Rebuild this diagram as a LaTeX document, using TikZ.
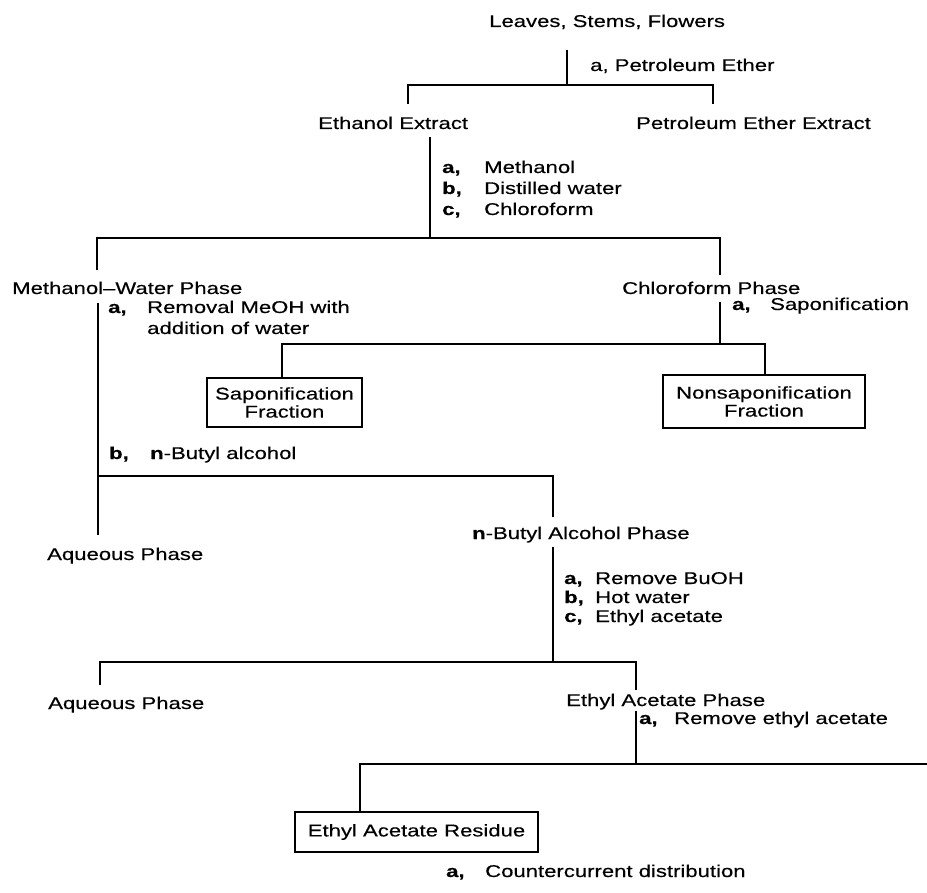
\documentclass[tikz,border=0pt]{standalone}
\usepackage{fontspec}
\setmainfont{Liberation Sans}[FakeStretch=1.3, FakeBold=0.35]
\newcommand\stplab[3]{\makebox[#1][l]{\textbf{#2}}#3}
\begin{document}
\begin{tikzpicture}[x=1pt,y=-1pt,
  every node/.style={font=\fontsize{17}{19}\selectfont, inner sep=0pt, anchor=base west},
  ln/.style={line width=1.6pt, line join=miter},
  fracbox/.style={draw, line width=1.6pt, anchor=center, align=center, inner sep=0pt,
     font=\fontsize{17}{18}\selectfont}]
\useasboundingbox (0,0) rectangle (927,893);

% ---------- text nodes ----------
\node (leaves) at (489,27) {Leaves, Stems, Flowers};
\node (petlab) at (590,71) {a, Petroleum Ether};
\node (ethanol) at (318,129) {Ethanol Extract};
\node (petext) at (636,129) {Petroleum Ether Extract};
\node (la1) at (442,173) {\stplab{42pt}{a,}{Methanol}};
\node (lb1) at (442,194) {\stplab{42pt}{b,}{Distilled water}};
\node (lc1) at (442,215) {\stplab{42pt}{c,}{Chloroform}};
\node (mw) at (12,294) {Methanol--Water Phase};
\node (chl) at (622,294) {Chloroform Phase};
\node (la2) at (108,313) {\stplab{39pt}{a,}{Removal MeOH with}};
\node (la2b) at (147,334) {addition of water};
\node (la3) at (732,310) {\stplab{38pt}{a,}{Saponification}};
\node[fracbox, minimum width=155pt, minimum height=49pt] (sap) at (284.5,402.5) {Saponification\\Fraction};
\node[fracbox, minimum width=202pt, minimum height=53pt] (nonsap) at (764,401.5) {Nonsaponification\\Fraction};
\node (lb2) at (109,459) {\stplab{41pt}{b,}{\textbf{n}-Butyl alcohol}};
\node (aq1) at (47,560) {Aqueous Phase};
\node (bu) at (472,539) {\textbf{n}-Butyl Alcohol Phase};
\node (la4) at (564,584) {\stplab{31pt}{a,}{Remove BuOH}};
\node (lb4) at (564,603) {\stplab{31pt}{b,}{Hot water}};
\node (lc4) at (564,622) {\stplab{31pt}{c,}{Ethyl acetate}};
\node (aq2) at (48,709) {Aqueous Phase};
\node (ea) at (566,706) {Ethyl Acetate Phase};
\node (la5) at (639,724) {\stplab{35pt}{a,}{Remove ethyl acetate}};
\node[fracbox, minimum width=243pt, minimum height=40pt] (ear) at (416.5,832) {Ethyl Acetate Residue};
\node (la6) at (446,877) {\stplab{39pt}{a,}{Countercurrent distribution}};

% ---------- junction coordinates ----------
\coordinate (t0) at (567,50);
\coordinate (j1) at (567,85);
\coordinate (e1) at (408,104);
\coordinate (p1) at (713,104);

\coordinate (t1) at (430,137);
\coordinate (j2) at (430,238);
\coordinate (m1) at (97,270);
\coordinate (c1) at (720,275);

\coordinate (t2) at (720,302);
\coordinate (j3) at (720,344);
\coordinate (s1) at (282,344);
\coordinate (n1) at (765,344);

\coordinate (t3) at (98,303);
\coordinate (j4) at (98,476);
\coordinate (a1) at (98,535);
\coordinate (b1) at (553,517);

\coordinate (t4) at (553,547);
\coordinate (j5) at (553,662);
\coordinate (a2) at (100,685);
\coordinate (ea1) at (636,690);

\coordinate (t5) at (636,711);
\coordinate (j6) at (636,764);
\coordinate (r1) at (360,764);
\coordinate (rend) at (927,764);

% ---------- connectors ----------
\draw[ln] (t0) -- (j1);
\draw[ln] (e1) |- (j1) -| (p1);

\draw[ln] (t1) -- (j2);
\draw[ln] (m1) |- (j2) -| (c1);

\draw[ln] (t2) -- (j3);
\draw[ln] (sap.north -| s1) -- (s1) -- (n1) -- (nonsap.north -| n1);

\draw[ln] (t3) -- (a1);
\draw[ln] (j4) -| (b1);

\draw[ln] (t4) -- (j5);
\draw[ln] (a2) |- (j5) -| (ea1);

\draw[ln] (t5) -- (j6);
\draw[ln] (ear.north -| r1) -- (r1) -- (rend);
\end{tikzpicture}
\end{document}
